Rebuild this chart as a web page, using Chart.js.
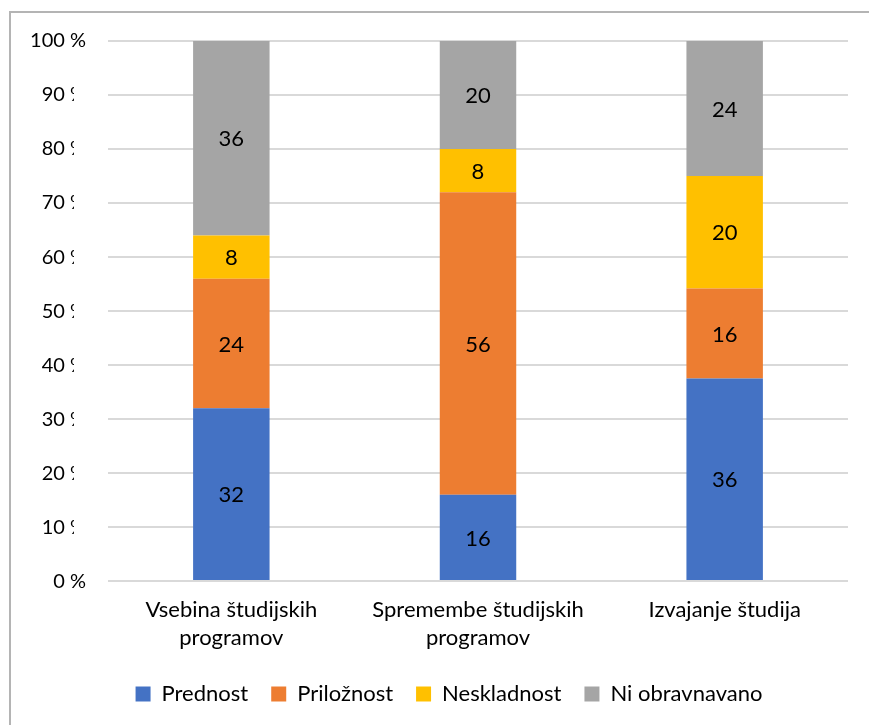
<!DOCTYPE html>
<html>
<head>
<meta charset="utf-8">
<script src="https://cdn.jsdelivr.net/npm/chart.js@4/dist/chart.umd.min.js"></script>
<style>
  html, body { margin: 0; padding: 0; background: #fff; overflow: hidden; }
  #frame {
    position: absolute; left: 9px; top: 11px; width: 900px; height: 760px;
    border-left: 2px solid #b4b4b4; border-top: 2px solid #b4b4b4;
  }
  #wrap { position: absolute; left: 0; top: 0; width: 869px; height: 725px; }
</style>
</head>
<body>
<div id="frame"></div>
<div id="wrap"><canvas id="chart"></canvas></div>
<script>
// categories and series (raw counts, shown as labels)
const categories = [
  ["Vsebina študijskih", "programov"],
  ["Spremembe študijskih", "programov"],
  "Izvajanje študija",
];
const seriesNames = ["Prednost", "Priložnost", "Neskladnost", "Ni obravnavano"];
const prednost = [32, 16, 36];
const priloznost = [24, 56, 16];
const neskladnost = [8, 8, 20];
const niObravnavano = [36, 20, 24];
const yTicks = [0, 10, 20, 30, 40, 50, 60, 70, 80, 90, 100];

const seriesValues = [prednost, priloznost, neskladnost, niObravnavano];
const seriesColors = ["#4472C4", "#ED7D31", "#FFC000", "#A5A5A5"];
const fontFamily = "Lato, 'Open Sans', sans-serif";

// 100 % stacked: share of each category total
const totals = categories.map((_, i) =>
  seriesValues.reduce((s, arr) => s + arr[i], 0)
);

// draw raw value in the middle of each bar segment
const valueLabels = {
  id: "valueLabels",
  afterDatasetsDraw(chart) {
    const ctx = chart.ctx;
    ctx.save();
    ctx.font = "22px " + fontFamily;
    ctx.fillStyle = "#000";
    ctx.textAlign = "center";
    ctx.textBaseline = "middle";
    chart.data.datasets.forEach((ds, di) => {
      const meta = chart.getDatasetMeta(di);
      meta.data.forEach((bar, i) => {
        const p = bar.getProps(["x", "y", "base"], true);
        ctx.fillText(ds.raw[i], p.x, (p.y + p.base) / 2 + 1);
      });
    });
    ctx.restore();
  },
};

// the original export cuts off the "%" of the inner tick labels
const clipTicks = {
  id: "clipTicks",
  afterDraw(chart) {
    const y = chart.scales.y;
    const ctx = chart.ctx;
    ctx.save();
    ctx.fillStyle = "#fff";
    const top = y.getPixelForValue(95);
    const bottom = y.getPixelForValue(5);
    ctx.fillRect(74, top, 26, bottom - top);
    ctx.restore();
  },
};

new Chart(document.getElementById("chart"), {
  type: "bar",
  data: {
    labels: categories,
    datasets: seriesNames.map((name, k) => ({
      label: name,
      raw: seriesValues[k],
      data: seriesValues[k].map((v, i) => (v / totals[i]) * 100),
      backgroundColor: seriesColors[k],
      borderWidth: 0,
      barPercentage: 0.31,
      categoryPercentage: 1,
    })),
  },
  options: {
    responsive: true,
    maintainAspectRatio: false,
    animation: false,
    // left padding only shifts the legend; the y labels may draw into it
    layout: { padding: { top: 41, right: 21, left: 50, bottom: 10 } },
    scales: {
      x: {
        stacked: true,
        grid: { display: false },
        border: { display: false },
        afterFit: (scale) => {
          scale.height += 1;
        },
        ticks: {
          color: "#000",
          font: { family: fontFamily, size: 22, lineHeight: 1.27 },
          padding: 7,
          maxRotation: 0,
        },
      },
      y: {
        stacked: true,
        min: 0,
        max: 100,
        afterBuildTicks: (scale) => {
          scale.ticks = yTicks.map((v) => ({ value: v }));
        },
        afterFit: (scale) => {
          scale.width = 58;
          scale._computeLabelArea = () => undefined;
        },
        grid: { color: "#D9D9D9", lineWidth: 2, drawTicks: false },
        border: { display: false },
        ticks: {
          color: "#000",
          font: { family: fontFamily, size: 20 },
          padding: 22,
          callback: (v) => v + " %",
        },
      },
    },
    plugins: {
      tooltip: { enabled: false },
      legend: {
        position: "bottom",
        labels: {
          color: "#000",
          font: { family: fontFamily, size: 22 },
          boxWidth: 15,
          boxHeight: 15,
          padding: 23,
        },
      },
    },
  },
  plugins: [valueLabels, clipTicks],
});
</script>
</body>
</html>
